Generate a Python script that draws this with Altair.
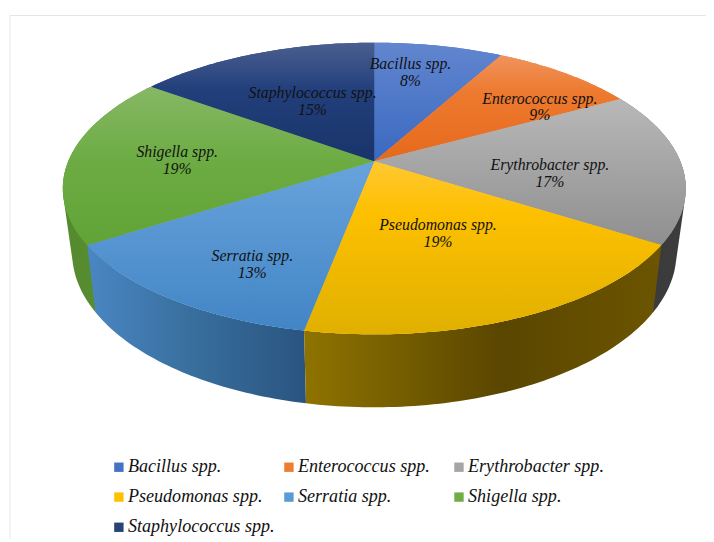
import math
import altair as alt

categories = ["Bacillus spp.", "Enterococcus spp.", "Erythrobacter spp.", "Pseudomonas spp.",
              "Serratia spp.", "Shigella spp.", "Staphylococcus spp."]
percents = [8, 9, 17, 19, 13, 19, 15]
legend_colors = ["#4472c4", "#ed7d31", "#a5a5a5", "#ffc000", "#5b9bd5", "#70ad47", "#264478"]

W, H = 706, 534
OX, OY = 8, 8
TOP = dict(c=160, A=309.5, B=142.4, k=0.1864)
BOT = dict(c=223, A=300.0, B=150.5, k=0.19)
CX = 378.5
IDENT = dict(type="identity", scale=1, translate=[0, 0])


def project(theta_deg, r, p):
    t = math.radians(theta_deg)
    X, Y = r * math.sin(t), r * math.cos(t)
    d = 1 + p["k"] * Y
    return [CX + p["A"] * X / d - OX, p["c"] - p["B"] * Y / d - OY]


def arc(a, b, p, step=1.0):
    n = max(2, int(abs(b - a) / step))
    return [project(a + (b - a) * i / n, 1, p) for i in range(n + 1)]


def hull(points):
    pts = sorted(set(map(tuple, points)))

    def cross(o, a, b):
        return (a[0] - o[0]) * (b[1] - o[1]) - (a[1] - o[1]) * (b[0] - o[0])

    lower, upper = [], []
    for p in pts:
        while len(lower) >= 2 and cross(lower[-2], lower[-1], p) <= 0:
            lower.pop()
        lower.append(p)
    for p in reversed(pts):
        while len(upper) >= 2 and cross(upper[-2], upper[-1], p) <= 0:
            upper.pop()
        upper.append(p)
    ring = lower[:-1] + upper[:-1]
    return [list(p) for p in ring]


def feature(name, ring, kind="Polygon"):
    coords = [ring] if kind == "Polygon" else ring
    return {"type": "Feature", "category": name, "geometry": {"type": kind, "coordinates": coords}}


def grad(stops, horizontal=False):
    return alt.LinearGradient(
        gradient="linear",
        x1=0, y1=0,
        x2=1 if horizontal else 0,
        y2=0 if horizontal else 1,
        stops=[alt.GradientStop(color=c, offset=o) for o, c in stops],
    )


starts = []
acc = 0
for p_ in percents:
    starts.append(acc * 3.6)
    acc += p_
ends = starts[1:] + [360.0]

face_features = []
for name, a, b in zip(categories, starts, ends):
    ring = [project(0, 0, TOP)] + arc(a, b, TOP)
    ring.append(ring[0])
    face_features.append(feature(name, ring))

face_grads = [
    [(0, "#6286cf"), (1, "#3a69c1")],
    [(0, "#f0935c"), (0.35, "#ed7a2f"), (1, "#e6691c")],
    [(0, "#b8b8b8"), (1, "#8f8f8f")],
    [(0, "#ffc832"), (0.3, "#fdc000"), (1, "#e0b000")],
    [(0, "#68a3dc"), (1, "#4285c5")],
    [(0, "#86b865"), (0.5, "#6bab41"), (1, "#62a338")],
    [(0, "#4b5f90"), (0.4, "#223f7c"), (1, "#193469")],
]

wall_grads = {
    2: [(0, "#3a3a3a"), (1, "#3c3c3c")],
    5: [(0, "#55892f"), (1, "#5b9433")],
    4: [(0, "#4a86c3"), (0.45, "#39709f"), (1, "#2a5480")],
    3: [(0, "#8f7300"), (0.55, "#5a4600"), (1, "#6c5500")],
}

layers = []

# Thin chart border
border = [[2, H], [2, 4.5], [W, 4.5]]
layers.append(
    alt.Chart(alt.Data(values=[feature("border", border, "LineString")]))
    .mark_geoshape(filled=False, stroke="#e2e6ec", strokeWidth=1)
    .project(**IDENT)
)

# Side walls, back to front; the back ones take the hull so the silhouette is straight
for i in [2, 5, 4, 3]:
    a, b = starts[i], ends[i]
    if i in (2, 5):
        ring = hull(arc(a, b, TOP) + arc(a, b, BOT))
    else:
        ring = arc(a, b, TOP) + arc(b, a, BOT)
    ring.append(ring[0])
    layers.append(
        alt.Chart(alt.Data(values=[feature(categories[i], ring)]))
        .mark_geoshape(fill=grad(wall_grads[i], True), strokeWidth=0)
        .project(**IDENT)
    )

# Flat faces carry the colour scale and its legend
layers.append(
    alt.Chart(alt.Data(values=face_features))
    .mark_geoshape(strokeWidth=0)
    .encode(
        color=alt.Color(
            "category:N",
            scale=alt.Scale(domain=categories, range=legend_colors),
            sort=categories,
            legend=alt.Legend(
                title=None, orient="none", legendX=103, legendY=452, columns=3,
                direction="horizontal",
                symbolType="square", symbolSize=90, symbolStrokeWidth=0,
                labelFont="Liberation Serif", labelFontStyle="italic", labelFontSize=18.3,
                labelColor="#111111", labelLimit=200, labelOffset=0,
                gridAlign="all", columnPadding=5, rowPadding=11.5,
            ),
        )
    )
    .project(**IDENT)
)

# Gradient faces on top
for f, g in zip(face_features, face_grads):
    layers.append(
        alt.Chart(alt.Data(values=[f]))
        .mark_geoshape(fill=grad(g), strokeWidth=0)
        .project(**IDENT)
    )

# Labels placed in the pie's own polar frame
label_angle = [10.6, 54.5, 98.4, 157.9, 208.6, 270.6, 334.6]
label_radius = [0.729, 0.716, 0.571, 0.505, 0.733, 0.645, 0.511]
label_rows = []
for name, pct, th, r in zip(categories, percents, label_angle, label_radius):
    lon, lat = project(th, r, TOP)
    label_rows.append({"lon": lon, "lat": lat, "text": f"{name}\n{pct}%"})

layers.append(
    alt.Chart(alt.Data(values=label_rows))
    .mark_text(font="Liberation Serif", fontStyle="italic", fontSize=16, lineBreak="\n",
               lineHeight=17, color="#111111", align="center", baseline="middle", dy=-8.5)
    .encode(longitude="lon:Q", latitude="lat:Q", text="text:N")
    .project(**IDENT)
)

chart = (
    alt.layer(*layers)
    .properties(width=W, height=H, padding=0, background="white")
    .configure_view(stroke=None)
)

chart.save("out.html", embed_options={"renderer": "svg", "actions": False})
